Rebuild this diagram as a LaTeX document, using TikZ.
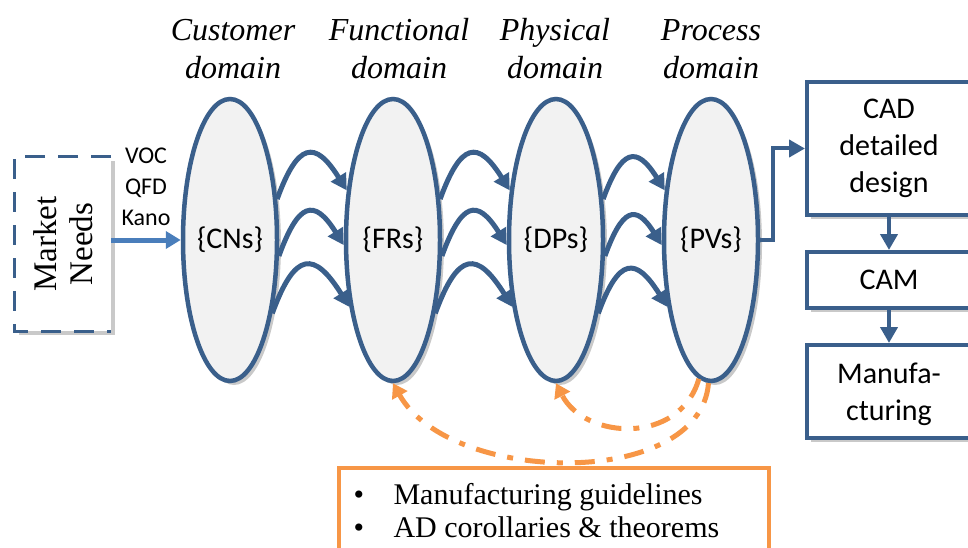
\documentclass[tikz,border=0pt]{standalone}
\usepackage{fontspec}
\setmainfont{Liberation Serif}
\newfontfamily\calfont{Carlito}
\usetikzlibrary{shapes.geometric,arrows.meta,shadows}
\definecolor{dblue}{HTML}{3A5F8B}
\definecolor{lblue}{HTML}{4A7EBB}
\definecolor{orng}{HTML}{F79646}
\definecolor{efill}{HTML}{F2F2F2}
\tikzset{
  shad/.style={drop shadow={shadow xshift=4pt,shadow yshift=-4pt,opacity=0.3,fill=black!70}},
  dom/.style={ellipse, draw=dblue, line width=4.5pt, fill=efill, minimum width=94pt,
    minimum height=282pt, inner sep=0pt, font=\calfont\fontsize{30}{36}\selectfont, shad},
  lbl/.style={font=\itshape\fontsize{32}{38}\selectfont, align=center},
  flow/.style={draw=dblue, line width=5pt, -{Triangle[length=16pt,width=17pt]}},
  hop/.style={flow, looseness=2.2},
  sbox/.style={rectangle, draw=dblue, line width=4pt, fill=white, minimum width=164pt,
    inner sep=0pt, align=center, font=\calfont\fontsize{30}{37}\selectfont, shad},
  oarc/.style={draw=orng, line width=5pt, dash pattern=on 20pt off 12pt on 6pt off 12pt,
    -{Triangle[length=14pt,width=17pt]}},
}
\begin{document}
\begin{tikzpicture}[x=1pt,y=-1pt]
\useasboundingbox (0,0) rectangle (968,548);
\clip (0,0) rectangle (968,548);

% domain labels
\node[lbl] (l1) at (233,49) {Customer\\domain};
\node[lbl] (l2) at (399,49) {Functional\\domain};
\node[lbl] (l3) at (555,49) {Physical\\domain};
\node[lbl] (l4) at (711,49) {Process\\domain};

% ellipses
\node[dom] (cn) at (230,240) {\{CNs\}};
\node[dom] (fr) at (393,240) {\{FRs\}};
\node[dom] (dp) at (556,240) {\{DPs\}};
\node[dom] (pv) at (711,240) {\{PVs\}};

% market needs
\node[rectangle, fill=white, minimum width=174pt, minimum height=96pt, inner sep=0pt,
  rotate=90, align=center, font=\fontsize{33}{36}\selectfont, shad] (mn) at (63,244) {Market\\Needs};
\draw[dblue, line width=3pt, dash pattern=on 20pt off 13pt]
  (mn.south east) -- (mn.north east) -- (mn.north west) -- (mn.south west);
\node[align=center, font=\calfont\fontsize{24}{31}\selectfont] (voc) at (146,187) {VOC\\QFD\\Kano};
\draw[lblue, line width=5pt, -{Triangle[length=15pt,width=17pt]}] (mn.south |- cn.west) -- (cn.west);

% curved arrows
\foreach \a/\b in {cn/fr, fr/dp, dp/pv}{
  \draw[hop] (\a.41) to[out=70,in=122] (\b.133);
  \draw[hop] (\a.-18) to[out=70,in=122] (\b.-174);
  \draw[hop] (\a.-60) to[out=70,in=122] (\b.-123);
}

% right boxes
\node[sbox, minimum height=133pt] (cad) at (889,148.5) {CAD\\detailed\\design};
\node[sbox, minimum height=56pt] (cam) at (889,280) {CAM};
\node[sbox, minimum height=93pt, text depth=-4pt] (mf) at (889,391.5) {Manufa-\\cturing};
\draw[flow, line width=4pt] (pv.east) -- ++(13,0) |- (cad.west);
\draw[flow, line width=4pt] (cad.south) -- (cam.north);
\draw[flow, line width=4pt] (cam.south) -- (mf.north);

% orange box
\node[rectangle, draw=orng, line width=4.5pt, minimum width=430pt, minimum height=110pt,
  inner sep=0pt] (ob) at (554,523) {};
\node[anchor=west, align=left, font=\fontsize{30}{33}\selectfont] (obt) at (350,511)
  {\makebox[40pt][l]{\textbullet}Manufacturing guidelines\\
   \makebox[40pt][l]{\textbullet}AD corollaries \& theorems};

% orange dash-dot arcs
\draw[oarc] (pv.-91) .. controls (700,490) and (450,485) .. (fr.south);
\draw[oarc] (pv.-95) .. controls (680,445) and (585,440) .. (dp.south);
\end{tikzpicture}
\end{document}
